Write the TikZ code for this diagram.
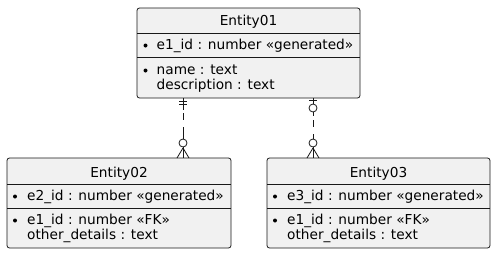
\documentclass[tikz,border=0pt]{standalone}
\usepackage{fontspec}
\setmainfont{DejaVu Sans}
\begin{document}
\begin{tikzpicture}[x=1pt,y=-1pt]
\definecolor{boxfill}{HTML}{F1F1F1}
\definecolor{boxline}{HTML}{181818}
\tikzset{
  entbox/.style={draw=boxline,fill=boxfill,line width=0.8pt,rounded corners=2.5pt,inner sep=0},
  sepline/.style={draw=boxline,line width=0.8pt},
  ttl/.style={anchor=base,inner sep=0,font=\fontsize{13.7}{15}\selectfont},
  attr/.style={anchor=base west,inner sep=0,font=\fontsize{13.7}{15}\selectfont},
  bul/.style={fill=black,circle,inner sep=0,minimum size=4pt},
  rel/.style={draw=boxline,line width=0.8pt},
  reld/.style={draw=boxline,line width=0.8pt,dash pattern=on 7pt off 7pt},
}
\useasboundingbox (0,0) rectangle (496,255);
% Entity01
\path[entbox] (137,8) rectangle (360,98);
\draw[sepline] (137,33) -- (360,33);
\draw[sepline] (137,57) -- (360,57);
\node[ttl] (t1) at (248.5,25) {Entity01};
\node[bul] (b11) at (145.5,45.5) {};
\node[attr] (a11) at (156.5,49) {e1\_id : number «generated»};
\node[bul] (b12) at (145.5,70.5) {};
\node[attr] (a12) at (156.5,74) {name : text};
\node[attr] (a13) at (156.5,89) {description : text};
% Entity02
\path[entbox] (7,158) rectangle (231,248);
\draw[sepline] (7,184) -- (231,184);
\draw[sepline] (7,208) -- (231,208);
\node[ttl] (t2) at (119,177) {Entity02};
\node[bul] (b21) at (15,196.5) {};
\node[attr] (a21) at (27,200) {e2\_id : number «generated»};
\node[bul] (b22) at (15,220.5) {};
\node[attr] (a22) at (27,224) {e1\_id : number «FK»};
\node[attr] (a23) at (27,239) {other\_details : text};
% Entity03
\path[entbox] (267,158) rectangle (490,248);
\draw[sepline] (267,184) -- (490,184);
\draw[sepline] (267,208) -- (490,208);
\node[ttl] (t3) at (378.5,177) {Entity03};
\node[bul] (b31) at (275,196.5) {};
\node[attr] (a31) at (287,200) {e3\_id : number «generated»};
\node[bul] (b32) at (275,220.5) {};
\node[attr] (a32) at (287,224) {e1\_id : number «FK»};
\node[attr] (a33) at (287,239) {other\_details : text};
% connector endpoints
\coordinate (p1) at (183,98);
\coordinate (q1) at (183,158);
\coordinate (p2) at (313,98);
\coordinate (q2) at (313,158);
% Entity01 -> Entity02 : one and only one to zero or many
\draw[rel] (p1) -- (183,110);
\draw[reld] (183,113) -- (183,139);
\draw[rel] (179,101) -- (187,101);
\draw[rel] (179,104.5) -- (187,104.5);
\draw[rel] (183,134) -- (183,139);
\draw[rel] (183,143) circle (4);
\draw[rel] (183,147) -- (q1);
\draw[rel] (183,148) -- (177,158);
\draw[rel] (183,148) -- (189,158);
% Entity01 -> Entity03 : zero or one to zero or many
\draw[rel] (p2) -- (313,104);
\draw[rel] (309,100) -- (317,100);
\draw[rel] (313,108) circle (4);
\draw[rel] (313,112) -- (313,116);
\draw[reld] (313,120) -- (313,139);
\draw[rel] (313,134) -- (313,139);
\draw[rel] (313,143) circle (4);
\draw[rel] (313,147) -- (q2);
\draw[rel] (313,148) -- (307,158);
\draw[rel] (313,148) -- (319,158);
\end{tikzpicture}
\end{document}
